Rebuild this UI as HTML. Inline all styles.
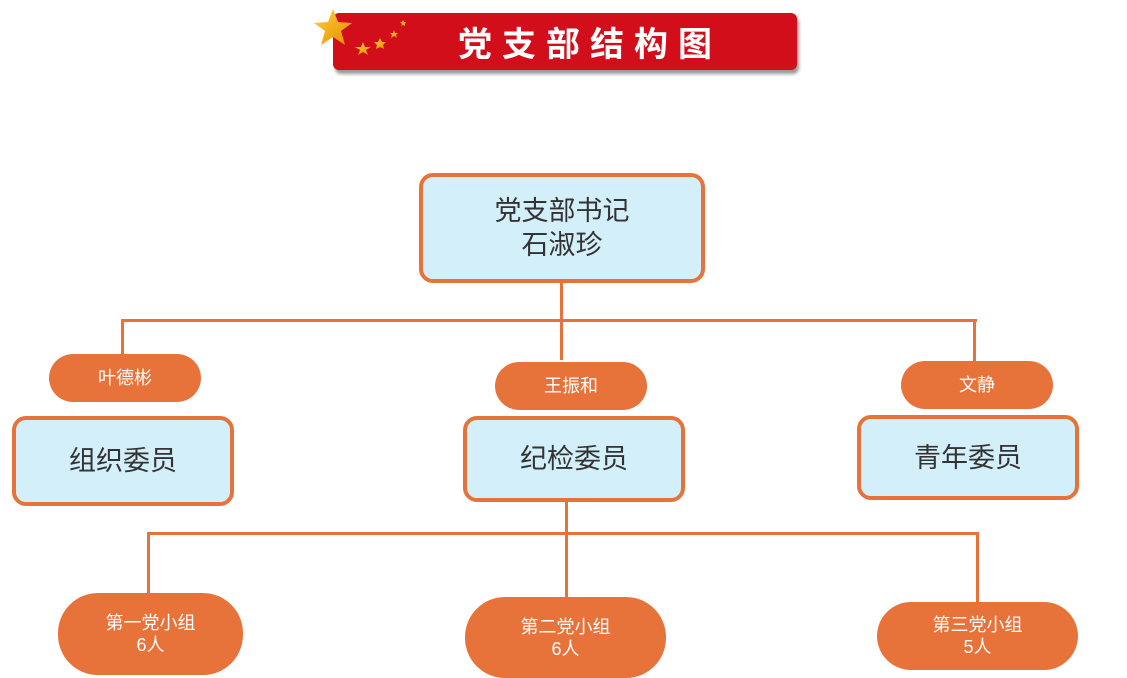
<!DOCTYPE html>
<html><head><meta charset="utf-8"><style>
body{margin:0;width:1127px;height:678px;background:#fff;position:relative;overflow:hidden;font-family:"Liberation Sans","Noto Sans CJK SC",sans-serif}
.a{position:absolute;box-sizing:border-box}
.ln{position:absolute;background:#E8733A}
.box{position:absolute;box-sizing:border-box;border:4px solid #E8733A;background:#D3EFFA;border-radius:14px;display:flex;align-items:center;justify-content:center;text-align:center;color:#333;font-size:27px;line-height:34px}
.pill{position:absolute;box-sizing:border-box;background:#E8733A;border-radius:40px;display:flex;align-items:center;justify-content:center;text-align:center;color:#fff;font-size:18px;line-height:22px}
</style></head><body>
<div class="a" style="left:333px;top:13px;width:464px;height:57px;background:#D20E1B;border-radius:6px;box-shadow:2px 4px 3px #999"></div>
<div class="a" style="left:440px;top:20px;width:300px;height:44px;color:#fff;font-weight:bold;font-size:34px;letter-spacing:10px;line-height:44px;text-align:center;font-family:'Noto Sans CJK SC',sans-serif">党支部结构图</div>
<svg class="a" style="left:305px;top:5px" width="110" height="60">
<defs><linearGradient id="g" x1="0" y1="0" x2="1" y2="1"><stop offset="0" stop-color="#FFD23A"/><stop offset="1" stop-color="#E88A00"/></linearGradient></defs>
<polygon fill="url(#g)" points="28,4 33,17 47,18 36,26 40,40 28,32 16,40 20,26 9,18 23,17"/>
<polygon fill="url(#g)" points="58,37 60,42 66,42 61,45 63,50 58,47 53,50 55,45 50,42 56,42"/>
<polygon fill="url(#g)" points="75,33 77,37 81,37 78,40 79,44 75,42 71,44 72,40 69,37 73,37"/>
<polygon fill="url(#g)" points="89,25 90,28 93,28 91,30 92,33 89,31 86,33 87,30 85,28 88,28"/>
<polygon fill="url(#g)" points="98,15 99,17 101,17 100,19 100,21 98,20 96,21 97,19 95,17 97,17"/>
</svg>
<div class="ln" style="left:560px;top:283px;width:3px;height:77px"></div>
<div class="ln" style="left:122px;top:319px;width:855px;height:3px"></div>
<div class="ln" style="left:121px;top:319px;width:3px;height:36px"></div>
<div class="ln" style="left:973px;top:319px;width:3px;height:43px"></div>
<div class="ln" style="left:565px;top:502px;width:3px;height:96px"></div>
<div class="ln" style="left:148px;top:532px;width:830px;height:3px"></div>
<div class="ln" style="left:147px;top:532px;width:3px;height:63px"></div>
<div class="ln" style="left:976px;top:532px;width:3px;height:71px"></div>
<div class="box" style="left:419px;top:173px;width:286px;height:110px">党支部书记<br>石淑珍</div>
<div class="pill" style="left:49px;top:354px;width:152px;height:48px">叶德彬</div>
<div class="pill" style="left:495px;top:362px;width:152px;height:48px">王振和</div>
<div class="pill" style="left:901px;top:361px;width:152px;height:48px">文静</div>
<div class="box" style="left:12px;top:416px;width:222px;height:90px">组织委员</div>
<div class="box" style="left:463px;top:416px;width:222px;height:86px">纪检委员</div>
<div class="box" style="left:857px;top:415px;width:222px;height:85px">青年委员</div>
<div class="pill" style="left:58px;top:593px;width:185px;height:82px">第一党小组<br>6人</div>
<div class="pill" style="left:465px;top:597px;width:201px;height:81px">第二党小组<br>6人</div>
<div class="pill" style="left:877px;top:602px;width:201px;height:68px">第三党小组<br>5人</div>
</body></html>
